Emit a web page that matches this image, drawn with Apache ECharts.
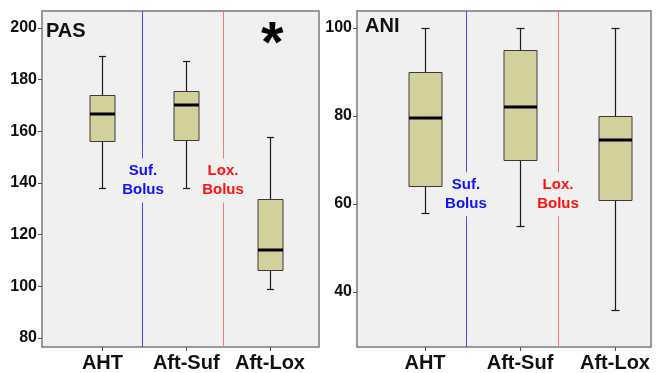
<!DOCTYPE html>
<html><head><meta charset="utf-8">
<script src="https://cdn.jsdelivr.net/npm/echarts@6/dist/echarts.min.js"></script>
<style>html,body{margin:0;padding:0;background:#fff}#c{width:658px;height:373px}</style>
</head><body><div id="c"></div>
<script>
// ---- data ----
const categories = ['AHT', 'Aft-Suf', 'Aft-Lox'];
// each row: [min, Q1, median, Q3, max]
const pasStats = [
  [138, 156.1, 166.8, 174.2, 189],
  [138.2, 156.6, 170.1, 175.7, 187.1],
  [99, 106.4, 113.9, 133.8, 157.9]
];
const aniStats = [
  [58, 64, 79.6, 90, 100],
  [55, 70, 82.1, 95, 100],
  [36, 61, 74.6, 80, 100]
];
const pasTicks = [80, 100, 120, 140, 160, 180, 200];
const aniTicks = [40, 60, 80, 100];
const bolusLabels = ['Suf.\nBolus', 'Lox.\nBolus'];
const pasBolusX = [1.484, 2.439];
const aniBolusX = [1.431, 2.400];
const pasBolusLabelY = 141;
const aniBolusLabelY = 62.2;
const panelTitles = ['PAS', 'ANI'];
const significance = '*';

// ---- styles ----
const FONT = 'Liberation Sans, Arial, sans-serif';
const boxFill = '#d4d09c';
const bolusLineColors = ['#4848ff', '#f27a7a'];
const bolusTextColors = ['#1010ff', '#ff1010'];

function makeRender(boxW, capW) {
  return function (params, api) {
    const x = api.value(0);
    const c = v => api.coord([x, v]);
    const px = Math.round(c(api.value(1))[0]) + 0.5;
    const yMin = Math.round(c(api.value(1))[1]) + 0.5;
    const yQ1 = Math.round(c(api.value(2))[1]) + 0.5;
    const yMed = Math.round(c(api.value(3))[1]);
    const yQ3 = Math.round(c(api.value(4))[1]) + 0.5;
    const yMax = Math.round(c(api.value(5))[1]) + 0.5;
    const ws = { stroke: '#1a1a1a', lineWidth: 1.2 };
    return {
      type: 'group',
      children: [
        { type: 'line', shape: { x1: px, y1: yMax, x2: px, y2: yQ3 }, style: ws },
        { type: 'line', shape: { x1: px, y1: yQ1, x2: px, y2: yMin }, style: ws },
        { type: 'line', shape: { x1: px - capW / 2, y1: yMax, x2: px + capW / 2, y2: yMax }, style: ws },
        { type: 'line', shape: { x1: px - capW / 2, y1: yMin, x2: px + capW / 2, y2: yMin }, style: ws },
        { type: 'rect', shape: { x: Math.round(px - boxW / 2), y: yQ3, width: boxW, height: yQ1 - yQ3 },
          style: { fill: boxFill, stroke: '#3a3a3a', lineWidth: 1 } },
        { type: 'line', shape: { x1: Math.round(px - boxW / 2), y1: yMed, x2: Math.round(px + boxW / 2), y2: yMed },
          style: { stroke: '#000', lineWidth: 3 } }
      ]
    };
  };
}

const grids = [
  { left: 42, top: 11, width: 277, height: 336 },
  { left: 357, top: 11, width: 294, height: 337 }
];
const xRanges = [[0.278, 3.585], [0.284, 3.379]];
const yRanges = [[76.5, 206.6], [27.5, 103.85]];
const yTickSets = [pasTicks, aniTicks];

const option = {
  animation: false,
  backgroundColor: '#ffffff',
  grid: grids.map(g => Object.assign({
    show: true, backgroundColor: '#f0f0f0', borderColor: '#7a7a7a', borderWidth: 1.5
  }, g)),
  xAxis: [0, 1].map(i => ({
    type: 'value', gridIndex: i, min: xRanges[i][0], max: xRanges[i][1],
    axisLine: { show: false }, splitLine: { show: false },
    axisTick: { show: true, customValues: [1, 2, 3], length: 4, lineStyle: { color: '#555' } },
    axisLabel: {
      customValues: [1, 2, 3], formatter: v => categories[Math.round(v) - 1],
      fontFamily: FONT, fontWeight: 'bold', fontSize: 20, color: '#111', margin: 6
    }
  })),
  yAxis: [0, 1].map(i => ({
    type: 'value', gridIndex: i, min: yRanges[i][0], max: yRanges[i][1],
    axisLine: { show: false }, splitLine: { show: false },
    axisTick: { show: true, customValues: yTickSets[i], length: 4, lineStyle: { color: '#555' } },
    axisLabel: {
      customValues: yTickSets[i], fontFamily: FONT, fontWeight: 'bold', fontSize: 16, color: '#111', margin: 5
    }
  })),
  series: [
    ...[[pasBolusX, 0], [aniBolusX, 1]].map(([bx, i]) => ({
      type: 'line', xAxisIndex: i, yAxisIndex: i, data: [], z: 1,
      markLine: {
        silent: true, symbol: 'none', label: { show: false },
        data: bx.map((v, k) => ({ xAxis: v, lineStyle: { color: bolusLineColors[k], width: 1, type: 'solid' } }))
      }
    })),
    ...[[pasStats, pasBolusX, pasBolusLabelY, 25, 7], [aniStats, aniBolusX, aniBolusLabelY, 33, 8]].map(([st, bx, ly, bw, cw], i) => ({
      type: 'custom', xAxisIndex: i, yAxisIndex: i, z: 5,
      renderItem: makeRender(bw, cw),
      encode: { x: 0, y: [1, 2, 3, 4, 5] },
      data: st.map((s, k) => [k + 1].concat(s)),
      markPoint: {
        silent: true, symbol: 'circle', symbolSize: 1, itemStyle: { color: 'rgba(0,0,0,0)' },
        data: bx.map((v, k) => ({
          coord: [v, ly],
          label: {
            show: true, position: 'inside', formatter: bolusLabels[k], color: bolusTextColors[k],
            fontFamily: FONT, fontWeight: 'bold', fontSize: 15, lineHeight: 19,
            backgroundColor: '#f0f0f0', padding: [3, 1]
          }
        }))
      }
    }))
  ],
  graphic: [
    { type: 'text', left: 46, top: 21, z: 10,
      style: { text: panelTitles[0], font: 'bold 20px ' + FONT, fill: '#111' } },
    { type: 'text', left: 365, top: 16, z: 10,
      style: { text: panelTitles[1], font: 'bold 20px ' + FONT, fill: '#111' } },
    { type: 'text', left: 261, top: 17, z: 10,
      style: { text: significance, font: 'bold 58px ' + FONT, fill: '#000' } }
  ]
};

const chart = echarts.init(document.getElementById('c'), null, { renderer: 'canvas' });
chart.setOption(option);
</script>
</body></html>
